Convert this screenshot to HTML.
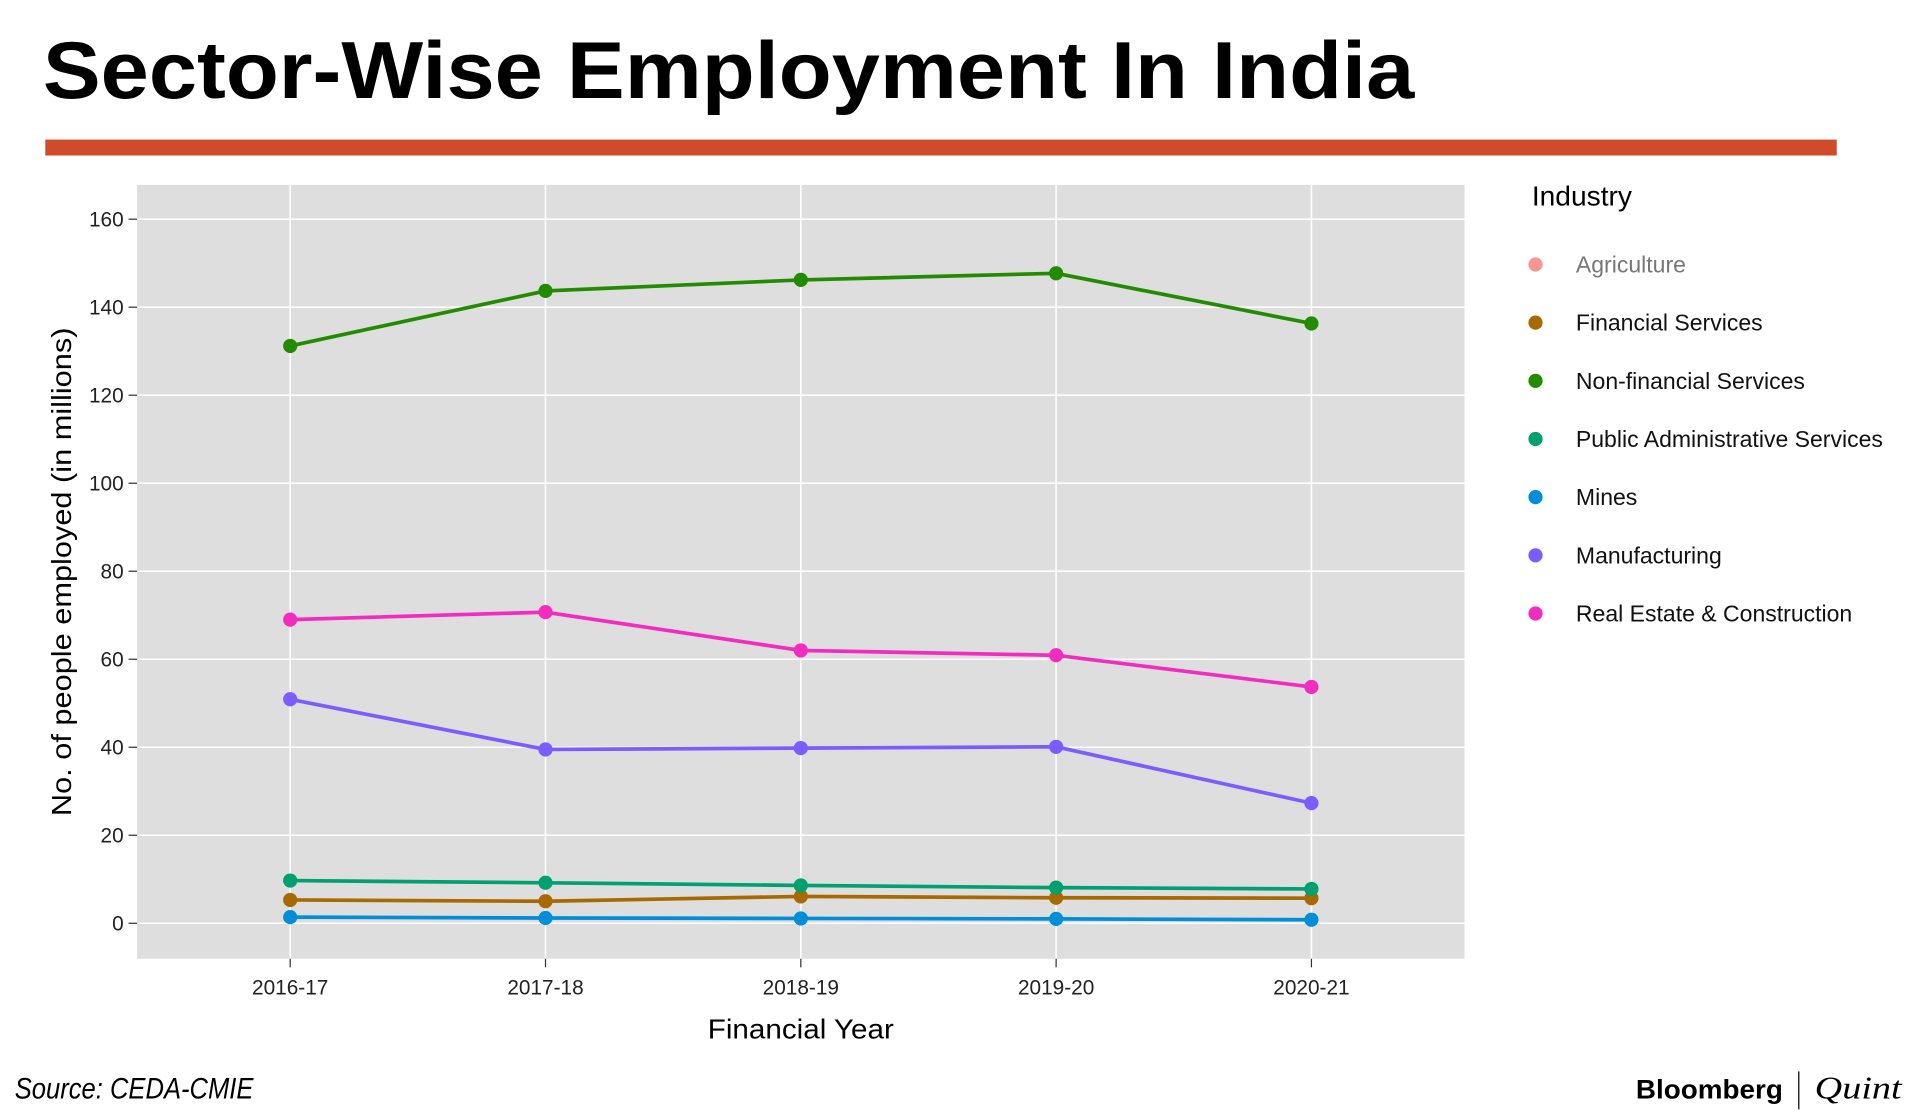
<!DOCTYPE html>
<html><head><meta charset="utf-8"><style>
html,body{margin:0;padding:0;background:#fff;}
svg{display:block;font-family:"Liberation Sans",sans-serif;}
</style></head><body>
<svg id="chart" width="1920" height="1116" viewBox="0 0 1568 911.4" xmlns="http://www.w3.org/2000/svg">
<text x="35" y="80" font-size="66" font-weight="bold" textLength="1120" lengthAdjust="spacingAndGlyphs" fill="#000">Sector-Wise Employment In India</text>
<rect x="37" y="114" width="1463" height="13" fill="#D04A2C"/>
<rect x="112" y="151" width="1084" height="632" fill="#DEDEDE"/>
<g id="grid"></g>
<g id="axes"></g>
<g id="series"></g>
<text x="654" y="848" font-size="23" text-anchor="middle" textLength="152" lengthAdjust="spacingAndGlyphs" fill="#000">Financial Year</text>
<text transform="translate(58,467) rotate(-90)" font-size="23" text-anchor="middle" textLength="399" lengthAdjust="spacingAndGlyphs" fill="#000">No. of people employed (in millions)</text>
<text x="1251" y="168" font-size="23" fill="#000">Industry</text>
<g id="legend"></g>
<text x="12" y="897" font-size="24" font-style="italic" textLength="195" lengthAdjust="spacingAndGlyphs" fill="#000">Source: CEDA-CMIE</text>
<text x="1336" y="897" font-size="22" font-weight="bold" textLength="120" lengthAdjust="spacingAndGlyphs" fill="#000">Bloomberg</text>
<line x1="1469" y1="875" x2="1469" y2="906" stroke="#000" stroke-width="1"/>
<text x="1482" y="897" font-size="26" font-style="italic" font-family="Liberation Serif, serif" textLength="71" lengthAdjust="spacingAndGlyphs" fill="#000">Quint</text>
</svg>
<script>
const categories = ["2016-17","2017-18","2018-19","2019-20","2020-21"];
const yTicks = [0,20,40,60,80,100,120,140,160];
const seriesNames = ["Agriculture","Financial Services","Non-financial Services","Public Administrative Services","Mines","Manufacturing","Real Estate & Construction"];
const seriesColors = ["#F8968F","#A66A00","#228B00","#00A070","#008ED8","#7B5CFF","#F22CBF"];
const agriculture = [];
const financial = [5.3,5.0,6.1,5.8,5.7];
const nonFinancial = [131.2,143.7,146.2,147.7,136.3];
const publicAdmin = [9.7,9.2,8.6,8.1,7.8];
const mines = [1.4,1.2,1.1,1.0,0.8];
const manufacturing = [50.9,39.5,39.8,40.1,27.3];
const realEstate = [69.0,70.7,62.0,60.9,53.7];
const allSeries = [agriculture,financial,nonFinancial,publicAdmin,mines,manufacturing,realEstate];

const NS="http://www.w3.org/2000/svg";
function xs(i){return 237 + i*208.5;}
function ys(v){return 754 - v*(575/160);}
function mk(tag,attrs,parent){const e=document.createElementNS(NS,tag);for(const k in attrs)e.setAttribute(k,attrs[k]);parent.appendChild(e);return e;}
const grid=document.getElementById('grid'), axes=document.getElementById('axes'), ser=document.getElementById('series'), leg=document.getElementById('legend');
yTicks.forEach(t=>{
  const y=ys(t);
  const g=mk('line',{x1:112,x2:1196,y1:y,y2:y,stroke:'#fff','stroke-width':1.3},grid);
  
  
  const tk=mk('line',{x1:105,x2:112,y1:y,y2:y,stroke:'#333','stroke-width':1},axes);
  
  
  const tx=mk('text',{x:101,y:y+6,'font-size':17,'text-anchor':'end',fill:'#222'},axes);
  tx.textContent=t;
  
  
});
categories.forEach((c,i)=>{
  const x=xs(i);
  const g=mk('line',{x1:x,x2:x,y1:151,y2:783,stroke:'#fff','stroke-width':1.3},grid);
  
  
  const tk=mk('line',{x1:x,x2:x,y1:783,y2:790,stroke:'#333','stroke-width':1},axes);
  
  
  const tx=mk('text',{x:x,y:812,'font-size':17,'text-anchor':'middle',fill:'#222'},axes);
  tx.textContent=c;
  
  
});
allSeries.forEach((vals,s)=>{
  if(!vals.length) return;
  const col=seriesColors[s];
  const pts=vals.map((v,i)=>xs(i)+','+ys(v)).join(' ');
  const pl=mk('polyline',{points:pts,fill:'none',stroke:col,'stroke-width':3,'stroke-linejoin':'round'},ser);
  
  
  vals.forEach((v,i)=>{
    const c=mk('circle',{cx:xs(i),cy:ys(v),r:5.8,fill:col},ser);
    
    
  });
});
seriesNames.forEach((n,s)=>{
  const y=216+s*47.5;
  const c=mk('circle',{cx:1254,cy:y,r:5.8,fill:seriesColors[s]},leg);
  
  
  const t=mk('text',{x:1287,y:y+6.5,'font-size':18.8,fill:s===0?'#777':'#111'},leg);
  t.textContent=n;
  
  
});
</script>
</body></html>
